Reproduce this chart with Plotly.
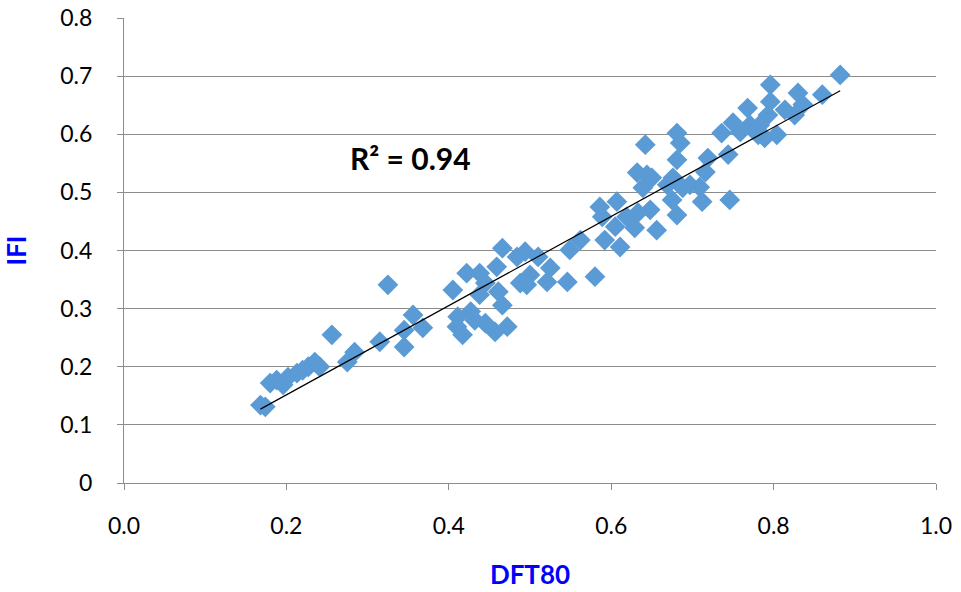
import numpy as np
import plotly.graph_objects as go

# DFT80 (x) and IFI (y) for each sample
dft80 = [
    0.168, 0.174, 0.180, 0.188, 0.196, 0.202, 0.213, 0.220, 0.227, 0.235,
    0.241, 0.256, 0.275, 0.284, 0.315, 0.325, 0.345, 0.345, 0.356, 0.368,
    0.405, 0.422, 0.411, 0.410, 0.417, 0.438, 0.445, 0.438, 0.459, 0.466,
    0.461, 0.466, 0.445, 0.457, 0.472, 0.484, 0.488, 0.432, 0.427,
    0.494, 0.510, 0.500, 0.496, 0.525, 0.521, 0.546, 0.549, 0.562, 0.580,
    0.586, 0.589, 0.592, 0.607, 0.605, 0.611, 0.619, 0.629, 0.632, 0.633,
    0.681, 0.685, 0.642, 0.681, 0.644, 0.650, 0.639, 0.648, 0.656, 0.681,
    0.669, 0.676, 0.675, 0.688, 0.697, 0.709, 0.712, 0.719, 0.716, 0.744,
    0.746, 0.736, 0.750, 0.759, 0.768, 0.771, 0.781,
    0.796, 0.796, 0.793, 0.783, 0.804, 0.789, 0.814, 0.830, 0.826, 0.836,
    0.860, 0.882,
]
ifi = [
    0.134, 0.131, 0.172, 0.177, 0.169, 0.182, 0.189, 0.194, 0.200, 0.208,
    0.200, 0.255, 0.208, 0.225, 0.243, 0.341, 0.234, 0.263, 0.289, 0.267,
    0.332, 0.361, 0.286, 0.269, 0.255, 0.361, 0.344, 0.324, 0.372, 0.404,
    0.329, 0.306, 0.275, 0.260, 0.269, 0.389, 0.344, 0.280, 0.295,
    0.398, 0.389, 0.358, 0.341, 0.370, 0.346, 0.346, 0.401, 0.418, 0.355,
    0.475, 0.458, 0.418, 0.484, 0.441, 0.406, 0.458, 0.439, 0.534, 0.465,
    0.602, 0.585, 0.582, 0.556, 0.530, 0.525, 0.508, 0.470, 0.435, 0.461,
    0.513, 0.525, 0.487, 0.508, 0.513, 0.509, 0.484, 0.559, 0.535, 0.565,
    0.487, 0.602, 0.620, 0.604, 0.645, 0.616, 0.599,
    0.685, 0.656, 0.633, 0.616, 0.599, 0.594, 0.642, 0.671, 0.633, 0.651,
    0.668, 0.702,
]

x_ticks = [0.0, 0.2, 0.4, 0.6, 0.8, 1.0]
y_ticks = [0, 0.1, 0.2, 0.3, 0.4, 0.5, 0.6, 0.7, 0.8]
r2_label = "R² = 0.94"

# Linear least-squares trendline over the data span
slope, intercept = np.polyfit(dft80, ifi, 1)
x_fit = np.array([min(dft80), max(dft80)])
y_fit = slope * x_fit + intercept

GRID = "#8c8c8c"
FAMILY = "Lato, Carlito, Calibri, sans-serif"
TICK_FONT = dict(family=FAMILY, size=23, color="#000000")
TITLE_FONT = dict(family=FAMILY, size=26, color="#0000ff")

fig = go.Figure()
fig.add_trace(go.Scatter(
    x=dft80, y=ifi, mode="markers",
    marker=dict(symbol="diamond", size=16, color="#5b9bd5", line=dict(width=0)),
    showlegend=False, hoverinfo="x+y",
))
fig.add_trace(go.Scatter(
    x=x_fit, y=y_fit, mode="lines",
    line=dict(color="#000000", width=1.2),
    showlegend=False, hoverinfo="skip",
))

fig.add_annotation(
    x=0.353, y=0.56, xref="x", yref="y",
    text="<b>" + r2_label + "</b>", showarrow=False,
    font=dict(family=FAMILY, size=30, color="#000000"),
)

fig.update_layout(
    width=961, height=592,
    margin=dict(l=124, r=25, t=18, b=109),
    paper_bgcolor="#ffffff", plot_bgcolor="#ffffff",
    xaxis=dict(
        range=[0, 1], tickvals=x_ticks, tickformat=".1f",
        showgrid=False, zeroline=False, automargin=False,
        showline=True, linecolor=GRID, linewidth=1,
        ticks="outside", ticklen=6, tickcolor=GRID,
        tickfont=TICK_FONT, ticklabelstandoff=16,
        title=dict(text="<b>DFT80</b>", font=TITLE_FONT, standoff=28),
    ),
    yaxis=dict(
        range=[0, 0.8], tickvals=y_ticks,
        showgrid=True, gridcolor=GRID, gridwidth=1, zeroline=False,
        automargin=False,
        showline=True, linecolor=GRID, linewidth=1,
        ticks="outside", ticklen=6, tickcolor=GRID,
        tickfont=TICK_FONT, ticklabelstandoff=20,
        title=dict(text="<b>IFI</b>", font=TITLE_FONT, standoff=28),
    ),
)

fig.write_html("out.html")
